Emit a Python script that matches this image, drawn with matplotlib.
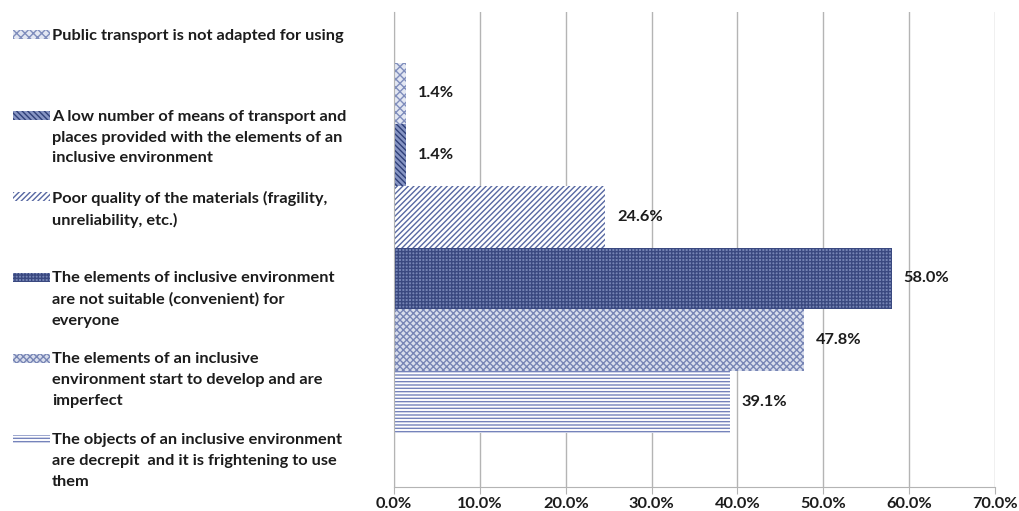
import matplotlib.pyplot as plt
import matplotlib.patches as mpatches

plt.rcParams['font.family'] = ['Lato', 'DejaVu Sans']
plt.rcParams['hatch.linewidth'] = 1.0

# Survey answers, listed top to bottom
labels = [
    "Public transport is not adapted for using",
    "A low number of means of transport and\nplaces provided with the elements of an\ninclusive environment",
    "Poor quality of the materials (fragility,\nunreliability, etc.)",
    "The elements of inclusive environment\nare not suitable (convenient) for\neveryone",
    "The elements of an inclusive\nenvironment start to develop and are\nimperfect",
    "The objects of an inclusive environment\nare decrepit  and it is frightening to use\nthem",
]
shares = [1.4, 1.4, 24.6, 58.0, 47.8, 39.1]
ticks = [0, 10, 20, 30, 40, 50, 60, 70]

# fill colour, hatch colour, hatch pattern for each answer
styles = [
    ('#e3e7f2', '#7f8dbc', 'xxxx'),
    ('#8795c4', '#2f4078', '\\\\\\\\\\\\'),
    ('#ffffff', '#5768a2', '//////'),
    ('#7685b5', '#3a4980', '+++++'),
    ('#d9deec', '#7785b5', 'xxxxx'),
    ('#ffffff', '#7583bb', '-----'),
]

fig = plt.figure(figsize=(10.19, 5.11), dpi=100)
ax = fig.add_axes([0.3867, 0.047, 0.5898, 0.9295])

text_kw = dict(fontsize=11.8, fontweight='bold', color='#1c1c1c')

for i, (val, (fc, hc, hatch)) in enumerate(zip(shares, styles)):
    ax.barh(i, val, height=1.0, color=fc, edgecolor=hc, hatch=hatch, linewidth=0, zorder=2)
    ax.annotate(f"{val:.1f}%", (val, i), xytext=(8.5, 0), textcoords='offset points',
                va='center', ha='left', **text_kw)

ax.set_xlim(0, 70)
ax.set_ylim(len(shares) - 0.5 + 0.88, -0.5 - 0.82)
ax.set_xticks(ticks)
ax.set_xticklabels([f"{t:.1f}%" for t in ticks], **text_kw)
ax.set_yticks([])
ax.grid(axis='x', color='#b4b4b4', linewidth=1.0, zorder=0)
ax.tick_params(axis='x', length=5, color='#b4b4b4', pad=2)
for side in ['top', 'right']:
    ax.spines[side].set_visible(False)
ax.spines['left'].set_color('#b4b4b4')
ax.spines['bottom'].set_color('#b4b4b4')

# Legend column on the left
H = 511.0
W = 1019.0
for i, (lab, (fc, hc, hatch)) in enumerate(zip(labels, styles)):
    y = 35 + i * 80.8
    sw = mpatches.Rectangle((13 / W, 1 - (y + 4.5) / H), 37 / W, 9 / H,
                            transform=fig.transFigure, facecolor=fc, edgecolor=hc,
                            hatch=hatch, linewidth=0)
    fig.patches.append(sw)
    fig.text(52 / W, 1 - (y - 6) / H, lab, va='top', ha='left',
             linespacing=1.62, **text_kw)

fig.savefig('out.png', dpi=100)
